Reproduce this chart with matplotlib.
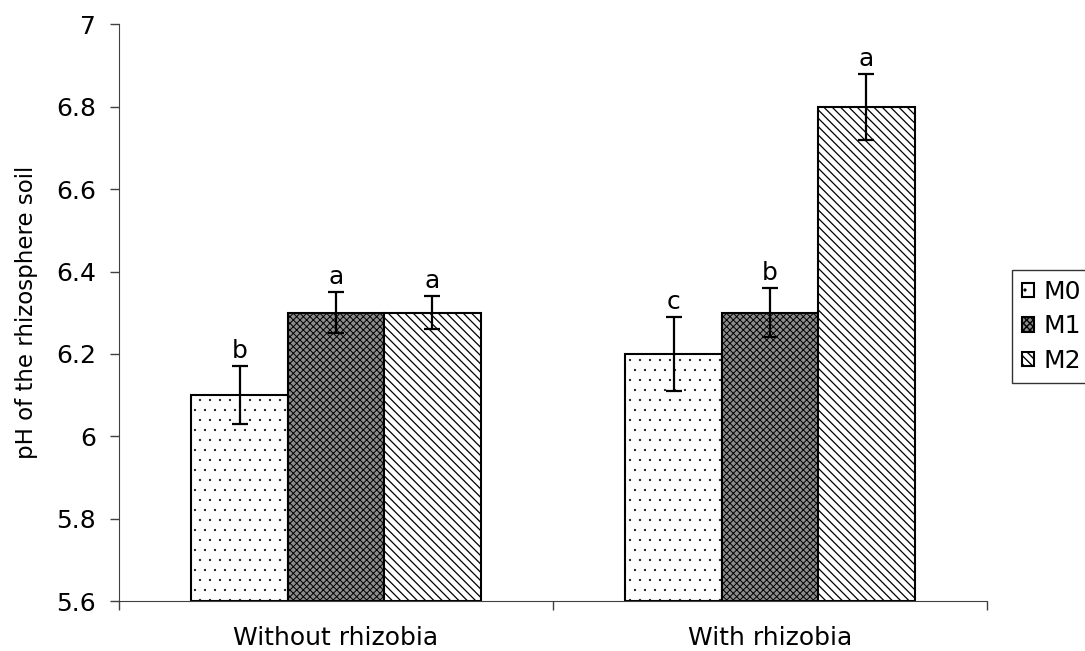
import numpy as np
import matplotlib
matplotlib.use("Agg")
import matplotlib.pyplot as plt
from matplotlib import hatch as mhatch

# data
groups = ["Without rhizobia", "With rhizobia"]
series = ["M0", "M1", "M2"]
m0_vals = [6.10, 6.20]
m1_vals = [6.30, 6.30]
m2_vals = [6.30, 6.80]
m0_err = [0.07, 0.09]
m1_err = [0.05, 0.06]
m2_err = [0.04, 0.08]
m0_lett = ["b", "c"]
m1_lett = ["a", "b"]
m2_lett = ["a", "a"]
yticks = [5.6, 5.8, 6.0, 6.2, 6.4, 6.6, 6.8, 7.0]


# finer, smaller dots than the stock '.' hatch (Excel style dotted fill)
# num_rows must stay even for the Shapes vertex count
class TinyDots(mhatch.Circles):
    size = 0.09
    filled = True

    def __init__(self, hatch, density):
        self.num_rows = hatch.count('.') * 10
        super().__init__(hatch, density)


mhatch._hatch_types[mhatch._hatch_types.index(mhatch.SmallFilledCircles)] = TinyDots

plt.rcParams['font.family'] = ['DejaVu Sans']

fig = plt.figure(figsize=(10.85, 6.51), dpi=100)
ax = fig.add_axes([0.1097, 0.0768, 0.80, 0.8856])

x = np.arange(len(groups))
w = 2 / 9
styles = [
    dict(facecolor="white", hatch="."),
    dict(facecolor="#8c8c8c", hatch="xxxxx"),
    dict(facecolor="white", hatch="\\\\\\\\"),
]
hatch_lw = [0.3, 0.7, 0.9]
vals = [m0_vals, m1_vals, m2_vals]
errs = [m0_err, m1_err, m2_err]
letts = [m0_lett, m1_lett, m2_lett]

for i, name in enumerate(series):
    xpos = x + (i - 1) * w
    with plt.rc_context({'hatch.linewidth': hatch_lw[i]}):
        ax.bar(xpos, np.array(vals[i]) - 5.6, bottom=5.6, width=w, edgecolor="black",
               linewidth=1.5, label=name, **styles[i])
    ax.errorbar(xpos, vals[i], yerr=errs[i], fmt="none", ecolor="black",
                elinewidth=1.6, capsize=6, capthick=1.6)
    for xp, v, e, t in zip(xpos, vals[i], errs[i], letts[i]):
        ax.text(xp, v + e + 0.008, t, ha="center", va="bottom", fontsize=18)

ax.set_ylim(5.6, 7.0)
ax.set_xlim(-0.5, 1.5)
ax.set_yticks(yticks)
ax.set_yticklabels([("%g" % t) for t in yticks], fontsize=18)
ax.set_xticks([-0.5, 0.5, 1.5])
ax.set_xticklabels([])
ax.set_xticks(x, minor=True)
ax.set_xticklabels(groups, minor=True, fontsize=18)
ax.tick_params(axis="x", which="minor", length=0, pad=18)
ax.tick_params(axis="both", which="major", length=6.5, width=1, color="#404040", direction="out")
ax.tick_params(axis="y", pad=10)
ax.set_ylabel("pH of the rhizosphere soil", fontsize=16.5, labelpad=13)

for s in ["top", "right"]:
    ax.spines[s].set_visible(False)
for s in ["left", "bottom"]:
    ax.spines[s].set_color("#404040")

leg = fig.legend(loc="center left", bbox_to_anchor=(0.9327, 0.4985), fontsize=18,
                 frameon=True, fancybox=False, borderaxespad=0, handlelength=0.5,
                 handleheight=0.5, handletextpad=0.35, labelspacing=0.42, borderpad=0.4)
leg.get_frame().set_edgecolor("black")
leg.get_frame().set_linewidth(1)

fig.savefig("out.png", dpi=100)
